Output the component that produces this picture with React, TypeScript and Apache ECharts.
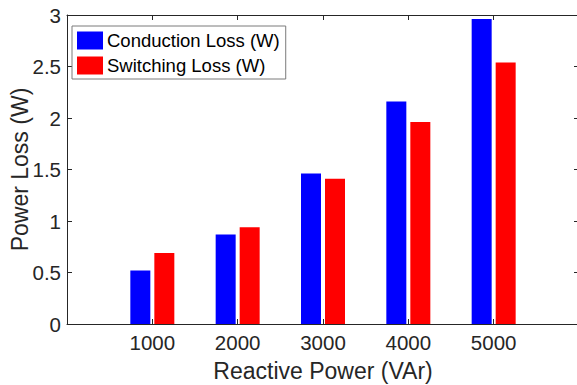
import React, { useEffect, useRef } from "react";
import * as echarts from "echarts";

// Reactive power set-points (VAr) and the measured losses at each
const reactivePower = [1000, 2000, 3000, 4000, 5000];
const conductionLoss = [0.52, 0.87, 1.46, 2.16, 2.96];
const switchingLoss = [0.69, 0.94, 1.41, 1.96, 2.54];
const yTicks = [0, 0.5, 1, 1.5, 2, 2.5, 3];

const FONT = "'Liberation Sans', Arial, Helvetica, sans-serif";
const INK = "#262626";

export default function App() {
  const ref = useRef<HTMLDivElement>(null);

  useEffect(() => {
    if (!ref.current) return;
    const chart = echarts.init(ref.current, undefined, { renderer: "svg" });

    const xLabel = (v: number) =>
      reactivePower.includes(v) ? String(v) : "";
    const yLabel = (v: number) => (yTicks.includes(v) ? String(v) : "");

    const tick = { show: true, inside: true, length: 5, lineStyle: { color: INK, width: 1 } };
    const line = { show: true, onZero: false, lineStyle: { color: INK, width: 1 } };

    chart.setOption({
      animation: false,
      backgroundColor: "#ffffff",
      textStyle: { fontFamily: FONT },
      grid: {
        left: 67,
        top: 15,
        width: 512,
        height: 309,
        containLabel: false,
        outerBoundsMode: "none",
      },
      legend: {
        orient: "vertical",
        left: 72,
        top: 26,
        padding: [5, 6, 4, 5],
        itemGap: 6,
        itemWidth: 26,
        itemHeight: 18,
        icon: "rect",
        backgroundColor: "#ffffff",
        borderColor: "#7a7a7a",
        borderWidth: 1,
        textStyle: { fontFamily: FONT, fontSize: 18.5, color: "#000000", padding: [0, 0, 0, -1] },
        data: ["Conduction Loss (W)", "Switching Loss (W)"],
      },
      xAxis: [
        {
          type: "value",
          min: 0,
          max: 6000,
          interval: 1000,
          position: "bottom",
          name: "Reactive Power (VAr)",
          nameLocation: "middle",
          nameGap: 35,
          nameMoveOverlap: false,
          nameTextStyle: { fontFamily: FONT, fontSize: 23, color: INK },
          axisLine: line,
          axisTick: tick,
          splitLine: { show: false },
          axisLabel: {
            formatter: xLabel,
            fontFamily: FONT,
            fontSize: 20.5,
            color: INK,
            margin: 8,
          },
        },
        {
          type: "value",
          min: 0,
          max: 6000,
          interval: 1000,
          position: "top",
          axisLine: line,
          axisTick: tick,
          splitLine: { show: false },
          axisLabel: { show: false },
        },
      ],
      yAxis: [
        {
          type: "value",
          min: 0,
          max: 3,
          interval: 0.5,
          position: "left",
          name: "Power Loss (W)",
          nameLocation: "middle",
          nameGap: 36,
          nameMoveOverlap: false,
          nameTextStyle: { fontFamily: FONT, fontSize: 23, color: INK },
          axisLine: line,
          axisTick: tick,
          splitLine: { show: false },
          axisLabel: {
            formatter: yLabel,
            fontFamily: FONT,
            fontSize: 20.5,
            color: INK,
            margin: 6,
          },
        },
        {
          type: "value",
          min: 0,
          max: 3,
          interval: 0.5,
          position: "right",
          axisLine: line,
          axisTick: tick,
          splitLine: { show: false },
          axisLabel: { show: false },
        },
      ],
      series: [
        {
          name: "Conduction Loss (W)",
          type: "bar",
          barWidth: 20,
          barGap: "20%",
          itemStyle: { color: "#0000ff" },
          data: reactivePower.map((p, i) => [p, conductionLoss[i]]),
        },
        {
          name: "Switching Loss (W)",
          type: "bar",
          barWidth: 20,
          barGap: "20%",
          itemStyle: { color: "#ff0000" },
          data: reactivePower.map((p, i) => [p, switchingLoss[i]]),
        },
      ],
    });

    return () => chart.dispose();
  }, []);

  return (
    <div
      ref={ref}
      style={{ position: "fixed", left: 0, top: 0, width: 577, height: 385, background: "#fff" }}
    />
  );
}
